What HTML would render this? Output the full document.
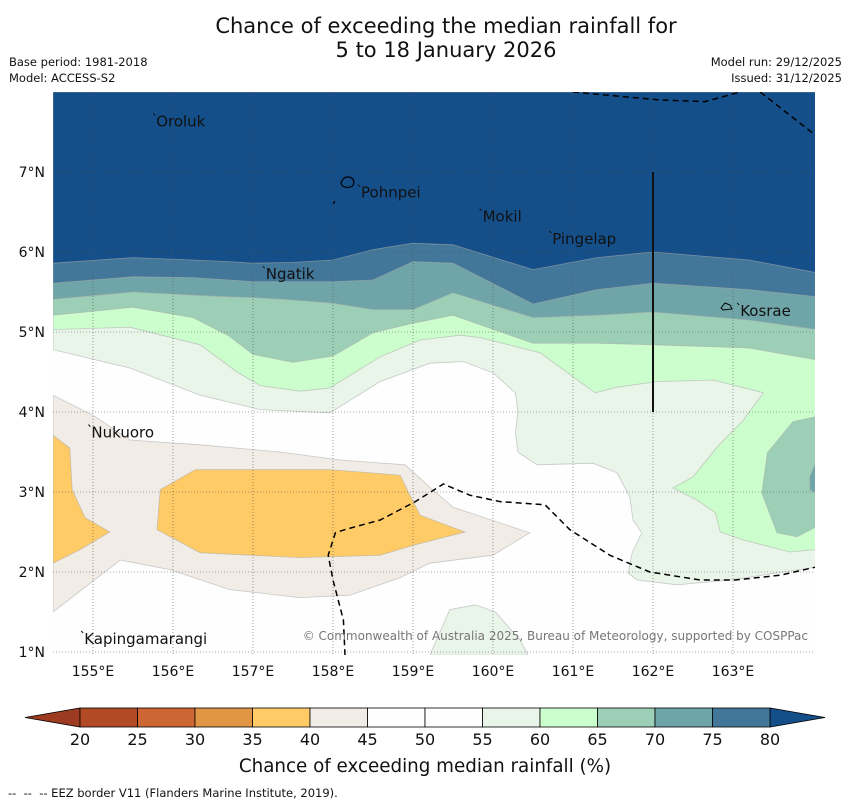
<!DOCTYPE html>
<html><head><meta charset="utf-8"><style>
html,body{margin:0;padding:0;background:#fff;width:850px;height:804px;overflow:hidden;font-family:"DejaVu Sans","Liberation Sans",sans-serif;}
svg text{font-family:"DejaVu Sans","Liberation Sans",sans-serif;}
</style></head><body>
<svg id="chart" width="850" height="804" viewBox="0 0 850 804" xmlns="http://www.w3.org/2000/svg">
<text x="446" y="33" font-size="21" text-anchor="middle" fill="#111">Chance of exceeding the median rainfall for</text>
<text x="446" y="57" font-size="21" text-anchor="middle" fill="#111">5 to 18 January 2026</text>
<text x="9" y="66" font-size="11.5" fill="#111">Base period: 1981-2018</text>
<text x="9" y="82" font-size="11.5" fill="#111">Model: ACCESS-S2</text>
<text x="842" y="66" font-size="11.5" text-anchor="end" fill="#111">Model run: 29/12/2025</text>
<text x="842" y="82" font-size="11.5" text-anchor="end" fill="#111">Issued: 31/12/2025</text>
<defs><clipPath id="mapclip"><rect x="53" y="92" width="762" height="563"/></clipPath></defs>
<g id="map" clip-path="url(#mapclip)"></g>
<g id="axes"></g>
<g id="cbar"></g>
<text x="425" y="772" font-size="18.3" text-anchor="middle" fill="#111">Chance of exceeding median rainfall (%)</text>
<text x="8" y="797" font-size="11.5" fill="#111" xml:space="preserve">--  --  -- EEZ border V11 (Flanders Marine Institute, 2019).</text>
</svg>
<script>
// ---- data ----
const cbLevels = [20,25,30,35,40,45,50,55,60,65,70,75,80];
const cbColors = ["#b24a26","#cd6633","#e19645","#fecb67","#f1ece6","#fefefe","#fefefe","#eaf5ea","#ccfdcc","#9ccfb6","#6fa5a8","#427799"];
const cbLow = "#9c3b20";
const cbHigh = "#154f8a";
const lonTicks = [155,156,157,158,159,160,161,162,163];
const latTicks = [1,2,3,4,5,6,7];
const bandLons = [154.5,155.5,156.25,156.7,157,157.5,158,158.5,159,159.5,160.5,161.3,162,163.2,164.05];
const b80 = [5.86,5.93,5.90,5.88,5.86,5.87,5.90,6.03,6.11,6.09,5.78,5.93,6.00,5.90,5.74];
const b75 = [5.61,5.69,5.68,5.65,5.63,5.63,5.63,5.65,5.88,5.86,5.35,5.53,5.61,5.53,5.44];
const b70 = [5.41,5.50,5.46,5.44,5.43,5.40,5.36,5.28,5.28,5.49,5.18,5.21,5.25,5.15,5.03];
const b65 = [5.21,5.31,5.18,4.95,4.72,4.62,4.70,4.99,5.11,5.21,4.86,4.86,4.84,4.80,4.65];
const p60 = [[154.5,5.03],[155.46,5.06],[156.34,4.84],[156.8,4.5],[157.09,4.33],[157.59,4.26],[157.96,4.3],[158.59,4.69],[159.09,4.9],[159.59,4.96],[159.84,4.93],[160.59,4.74],[161.0,4.44],[161.28,4.24],[161.55,4.31],[162.05,4.38],[162.75,4.4],[163.38,4.24],[163.13,3.9],[162.8,3.56],[162.5,3.19],[162.25,3.05],[162.55,2.9],[162.78,2.74],[162.84,2.5],[163.13,2.4],[163.71,2.25],[164.03,2.28]];
const p55 = [[154.5,4.78],[155.46,4.55],[156.34,4.21],[157.09,4.03],[157.96,3.99],[158.59,4.38],[159.21,4.61],[159.63,4.63],[160.0,4.49],[160.28,4.24],[160.31,4.0],[160.28,3.74],[160.31,3.5],[160.55,3.34],[161.25,3.36],[161.55,3.24],[161.71,2.94],[161.75,2.65],[161.86,2.49],[161.74,2.24],[161.69,1.99],[161.8,1.9],[162.3,1.84],[162.96,1.9],[164.03,2.06]];
const blob65 = [[164.03,3.94],[163.75,3.88],[163.43,3.49],[163.36,2.99],[163.55,2.49],[163.8,2.44],[164.03,2.56]];
const blob70 = [[164.03,3.36],[163.96,3.19],[163.96,3.03],[164.03,2.99]];
const patch55 = [[159.21,0.96],[159.46,1.53],[159.78,1.59],[160.03,1.5],[160.34,1.15],[160.44,0.96]];
const cream40 = [[154.5,4.21],[155.0,3.96],[155.46,3.65],[156.34,3.59],[157.34,3.5],[158.09,3.4],[158.9,3.34],[159.21,3.06],[159.5,2.81],[160.46,2.49],[160.0,2.21],[159.21,2.11],[158.84,1.93],[158.21,1.71],[157.59,1.68],[156.71,1.78],[155.96,2.03],[155.34,2.15],[154.5,1.5]];
const orange35 = [[155.84,3.03],[156.28,3.28],[157.09,3.28],[157.96,3.28],[158.84,3.21],[158.96,2.96],[159.09,2.71],[159.65,2.5],[159.03,2.34],[158.59,2.21],[157.59,2.18],[156.34,2.24],[155.8,2.53]];
const orangeWest = [[154.5,3.71],[154.71,3.55],[154.74,3.03],[154.9,2.68],[155.21,2.5],[154.84,2.28],[154.5,2.11]];
const eez1 = [[161.0,8.0],[162.09,7.9],[162.65,7.88],[163.09,8.0]];
const eez2 = [[163.34,8.0],[164.03,7.46]];
const eez3 = [[158.15,0.96],[158.13,1.4],[158.0,1.9],[157.94,2.21],[158.03,2.49],[158.15,2.53],[158.59,2.65],[159.03,2.88],[159.38,3.1],[159.71,2.96],[160.09,2.88],[160.65,2.84],[160.96,2.53],[161.46,2.21],[161.96,2.0],[162.59,1.9],[163.03,1.9],[163.59,1.96],[164.03,2.06]];
const islandNames = ["Oroluk","Pohnpei","Mokil","Pingelap","Ngatik","Kosrae","Nukuoro","Kapingamarangi"];
const islandLon = [155.79,158.35,159.87,160.74,157.16,163.09,154.98,154.89];
const islandLat = [7.57,6.68,6.38,6.1,5.66,5.2,3.68,1.1];

// ---- axes ----
const X0=53, Y0=92, W=762, H=563;
const lonMin=154.5, lonMax=164.025, latMin=0.9625, latMax=8.0;
const sx = lon => X0 + (lon-lonMin)/(lonMax-lonMin)*W;
const sy = lat => Y0 + (latMax-lat)/(latMax-latMin)*H;
const NS="http://www.w3.org/2000/svg";
const map=document.getElementById('map');
function mk(tag,attrs,parent){const e=document.createElementNS(NS,tag);for(const k in attrs)e.setAttribute(k,attrs[k]);parent.appendChild(e);return e;}
const ptsStr = arr => arr.map(p=>sx(p[0]).toFixed(1)+','+sy(p[1]).toFixed(1)).join(' ');
const LINE="rgba(170,170,170,0.6)";

let bg=mk('rect',{x:X0,y:Y0,width:W,height:H,fill:"#fefefe"},map);



function topRegion(south,color,name){
  const pts=[[lonMin,latMax]].concat(south).concat([[lonMax+0.1,south[south.length-1][1]],[lonMax+0.1,latMax]]);
  const e=mk('polygon',{points:ptsStr(pts),fill:color,stroke:LINE,'stroke-width':0.8},map);
  
  
}
const band = arr => bandLons.map((l,i)=>[l,arr[i]]);
topRegion(p55,cbColors[7],'region-55-60');
topRegion(p60,cbColors[8],'region-60-65');
topRegion(band(b65),cbColors[9],'region-65-70');
topRegion(band(b70),cbColors[10],'region-70-75');
topRegion(band(b75),cbColors[11],'region-75-80');
topRegion(band(b80),cbHigh,'region-above-80');

function poly(arr,color,name){
  const e=mk('polygon',{points:ptsStr(arr),fill:color,stroke:LINE,'stroke-width':0.8},map);
  
  
}
poly(blob65,cbColors[9],'east-region-65-70');
poly(blob70,cbColors[10],'east-region-70-75');
poly(patch55,cbColors[7],'south-region-55-60');
poly(cream40,cbColors[4],'region-40-45');
poly(orange35,cbColors[3],'region-35-40');
poly(orangeWest,cbColors[3],'west-region-35-40');

lonTicks.forEach(l=>{
  const g=mk('line',{x1:sx(l),x2:sx(l),y1:Y0,y2:Y0+H,stroke:"#555",'stroke-width':0.6,'stroke-dasharray':'1,2'},map);
  
  
});
latTicks.forEach(l=>{
  const g=mk('line',{x1:X0,x2:X0+W,y1:sy(l),y2:sy(l),stroke:"#555",'stroke-width':0.6,'stroke-dasharray':'1,2'},map);
  
  
});

[eez1,eez2,eez3].forEach(a=>{
  const e=mk('polyline',{points:ptsStr(a),fill:'none',stroke:'#000','stroke-width':1.5,'stroke-dasharray':'6,4'},map);
  
  
});
let vl=mk('line',{x1:sx(162),x2:sx(162),y1:sy(7),y2:sy(4),stroke:'#111','stroke-width':2},map);



let ph=mk('path',{d:`M${sx(158.12)} ${sy(6.9)} q3 -5 9 -2 q4 3 1 8 q-5 3 -10 0 q-3 -3 0 -6z M${sx(158.0)} ${sy(6.6)} l2 -3`,fill:'none',stroke:'#000','stroke-width':1.2},map);


let ks=mk('path',{d:`M${sx(163.0)-12} ${sy(5.3)} l4 -5 l5 2 l2 4 l-9 1z`,fill:'none',stroke:'#000','stroke-width':1},map);


islandNames.forEach((n,i)=>{
  const t=mk('text',{x:sx(islandLon[i]),y:sy(islandLat[i]),'font-size':15,fill:'#111'},map);
  t.textContent=n;
  
  
  const d=mk('line',{x1:sx(islandLon[i])-3,y1:sy(islandLat[i])-13,x2:sx(islandLon[i])-1,y2:sy(islandLat[i])-11,stroke:'#111','stroke-width':1},map);
  
  
});
let cp=mk('text',{x:808,y:640,'font-size':12,fill:'#777','text-anchor':'end'},map);
cp.textContent="© Commonwealth of Australia 2025, Bureau of Meteorology, supported by COSPPac";



const axes=document.getElementById('axes');
lonTicks.forEach(l=>{
  const t=mk('text',{x:sx(l),y:676,'font-size':14,'text-anchor':'middle',fill:'#111'},axes);
  t.textContent=l+'°E';
  
  
});
latTicks.forEach(l=>{
  const t=mk('text',{x:45,y:sy(l)+5,'font-size':14,'text-anchor':'end',fill:'#111'},axes);
  t.textContent=l+'°N';
  
  
});

const cb=document.getElementById('cbar');
const CX0=80, CX1=770, CY=708, CH=19;
const cx = v => CX0 + (v-cbLevels[0])/(cbLevels[cbLevels.length-1]-cbLevels[0])*(CX1-CX0);
let lo=mk('polygon',{points:`${CX0},${CY} ${CX0},${CY+CH} 25,${CY+CH/2}`,fill:cbLow,stroke:'#000','stroke-width':0.8},cb);


let hi=mk('polygon',{points:`${CX1},${CY} ${CX1},${CY+CH} 825,${CY+CH/2}`,fill:cbHigh,stroke:'#000','stroke-width':0.8},cb);


cbColors.forEach((c,i)=>{
  const r=mk('rect',{x:cx(cbLevels[i]),y:CY,width:cx(cbLevels[i+1])-cx(cbLevels[i]),height:CH,fill:c,stroke:'#000','stroke-width':0.8},cb);
  
  
});
cbLevels.forEach(v=>{
  const t=mk('text',{x:cx(v),y:745,'font-size':16,'text-anchor':'middle',fill:'#111'},cb);
  t.textContent=v;
  
  
});
</script>
</body></html>
